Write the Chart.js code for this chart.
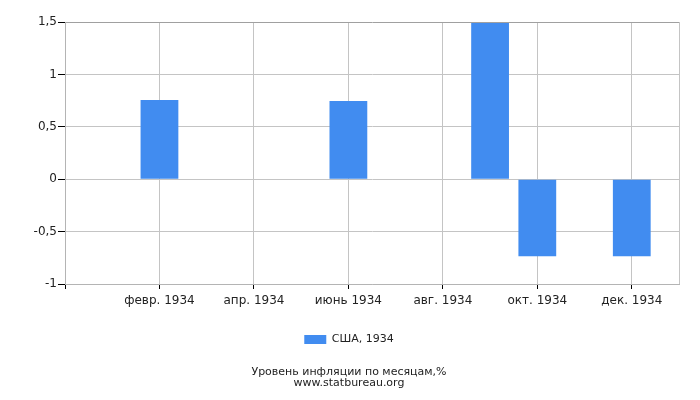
<!DOCTYPE html>
<html>
<head>
<meta charset="utf-8">
<script src="https://cdn.jsdelivr.net/npm/chart.js@4/dist/chart.umd.min.js"></script>
<style>
  html, body { margin: 0; padding: 0; background: #fff; }
</style>
</head>
<body>
<canvas id="myChart" width="700" height="400"></canvas>
<script>
// monthly inflation, USA 1934 (%)
var months = ["янв. 1934", "февр. 1934", "март 1934", "апр. 1934", "май 1934", "июнь 1934",
              "июль 1934", "авг. 1934", "сент. 1934", "окт. 1934", "нояб. 1934", "дек. 1934"];
var values = [0, 0.755, 0, 0, 0, 0.745, 0, 0, 1.49, -0.735, 0, -0.735];
var yTicks = [-1, -0.5, 0, 0.5, 1, 1.5];
var xTickIdx = [1, 3, 5, 7, 9, 11];
var seriesName = "США, 1934";
var titleLines = ["Уровень инфляции по месяцам,%", "www.statbureau.org"];

Chart.defaults.font.family = "'DejaVu Sans', sans-serif";
Chart.defaults.color = '#222';

var ctx = document.getElementById("myChart");
var myChart = new Chart(ctx, {
    type: 'bar',
    data: {
        datasets: [{
            label: seriesName,
            data: values.map(function (v, i) { return { x: i, y: v }; }),
            backgroundColor: '#418CF0',
            borderWidth: 0,
            categoryPercentage: 0.8,
            barPercentage: 1
        }]
    },
    options: {
        responsive: false,
        animation: false,
        layout: { padding: { left: 0, right: 2, top: 22, bottom: 0 } },
        scales: {
            x: {
                type: 'linear',
                min: -1,
                max: 12,
                offset: false,
                afterBuildTicks: function (scale) {
                    scale.ticks = [-1].concat(xTickIdx, [12]).map(function (v) { return { value: v }; });
                },
                afterFit: function (scale) { scale.height = 40; },
                ticks: {
                    autoSkip: false,
                    maxRotation: 0,
                    padding: 5,
                    font: { size: 12 },
                    callback: function (v) { return months[v] && xTickIdx.indexOf(v) >= 0 ? months[v] : ''; }
                },
                grid: {
                    offset: false,
                    color: function (c) { return (c.tick && (c.tick.value === -1)) ? 'transparent' : '#c4c4c4'; },
                    tickColor: function (c) { return (c.tick && c.tick.value === 12) ? 'transparent' : '#000'; },
                    tickLength: 5
                },
                border: { color: '#b4b4b4' }
            },
            y: {
                min: -1,
                max: 1.5,
                afterBuildTicks: function (scale) {
                    scale.ticks = yTicks.map(function (v) { return { value: v }; });
                },
                afterFit: function (scale) { scale.width = 65; },
                ticks: {
                    padding: 1,
                    font: { size: 12 },
                    callback: function (v) { return String(v).replace('.', ','); }
                },
                grid: {
                    color: function (c) { return (c.tick && c.tick.value === 1.5) ? '#a0a0a0' : '#c4c4c4'; },
                    tickColor: '#000',
                    tickLength: 7
                },
                border: { color: '#b4b4b4' }
            },
            // empty right margin so legend and title stay centred on the page
            yRight: {
                position: 'right',
                min: -1,
                max: 1.5,
                grid: { display: false },
                ticks: { display: false },
                border: { display: false },
                afterFit: function (scale) { scale.width = 19; }
            }
        },
        plugins: {
            legend: {
                position: 'bottom',
                labels: {
                    boxWidth: 22,
                    boxHeight: 9,
                    padding: 10,
                    font: { size: 11 }
                }
            },
            title: {
                display: true,
                position: 'bottom',
                text: titleLines,
                font: { size: 11, weight: 'normal', lineHeight: 1.0 },
                padding: { top: 12, bottom: 11 }
            },
            tooltip: { enabled: false }
        }
    }
});
</script>
</body>
</html>
